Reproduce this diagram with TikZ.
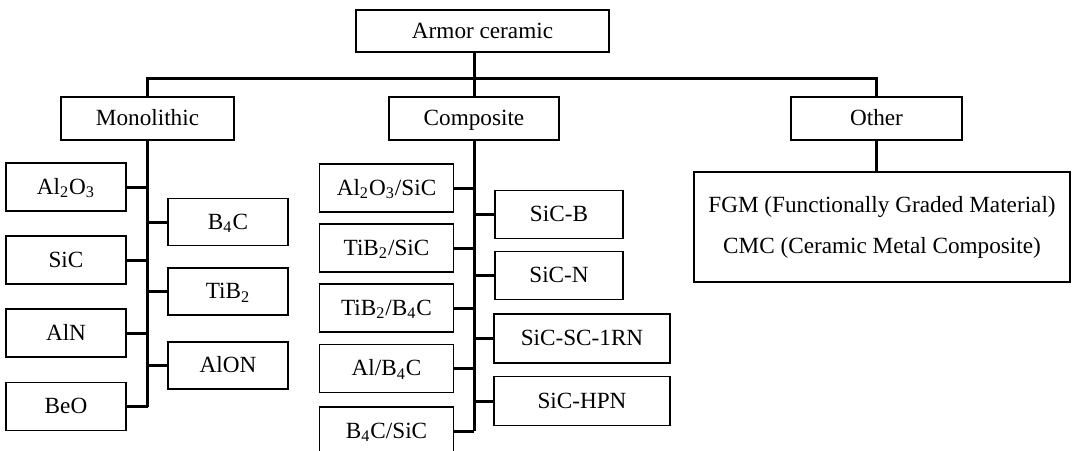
\documentclass[tikz,border=0pt]{standalone}
\usepackage{fontspec}
\setmainfont{Liberation Serif}
\begin{document}
\begin{tikzpicture}[x=0.5pt,y=-0.5pt,
  frame/.style={draw, line width=0.65pt, rectangle, inner sep=0pt, font=\fontsize{11.6}{14}\selectfont},
  box/.style={frame, text height=7.7pt, text depth=0.5pt},
  conn/.style={line width=1.5pt}]
\useasboundingbox (0,0) rectangle (1074,450);
% top levels
\node[box, minimum width=126.5pt, minimum height=21pt] (armor) at (482.5,31) {Armor ceramic};
\node[box, minimum width=86.5pt, minimum height=21.5pt] (mono) at (147.5,118.5) {Monolithic};
\node[box, minimum width=85pt, minimum height=21.5pt] (comp) at (474,118.5) {Composite};
\node[box, minimum width=85.5pt, minimum height=21.5pt] (other) at (876.5,118.5) {Other};
\node[frame, minimum width=188pt, minimum height=55pt, align=center, font=\fontsize{11.6}{20.5}\selectfont] (fgm) at (882,227) {FGM (Functionally Graded Material)\\CMC (Ceramic Metal Composite)};
% monolithic children
\tikzset{ml/.style={box, minimum width=60pt, minimum height=24pt},
         mr/.style={box, minimum width=60pt, minimum height=23.5pt}}
\node[ml] (al2o3) at (66,187) {Al\textsubscript{2}O\textsubscript{3}};
\node[ml] (sic) at (66,260) {SiC};
\node[ml] (aln) at (66,333) {AlN};
\node[ml] (beo) at (66,406.5) {BeO};
\node[mr] (b4c) at (228,222) {B\textsubscript{4}C};
\node[mr] (tib2) at (228,291.5) {TiB\textsubscript{2}};
\node[mr] (alon) at (228,365.5) {AlON};
% composite children
\tikzset{cl/.style={box, minimum width=67pt, minimum height=24pt},
         cr/.style={box, minimum width=64pt, minimum height=24pt},
         crw/.style={box, minimum width=88pt, minimum height=24.5pt}}
\node[cl] (c1) at (386.5,188) {Al\textsubscript{2}O\textsubscript{3}/SiC};
\node[cl] (c2) at (386.5,248) {TiB\textsubscript{2}/SiC};
\node[cl] (c3) at (386.5,308) {TiB\textsubscript{2}/B\textsubscript{4}C};
\node[cl] (c4) at (386.5,368.5) {Al/B\textsubscript{4}C};
\node[cl] (c5) at (386.5,431) {B\textsubscript{4}C/SiC};
\node[cr] (r1) at (559,214.5) {SiC-B};
\node[cr] (r2) at (559,275.5) {SiC-N};
\node[crw] (r3) at (582,338.5) {SiC-SC-1RN};
\node[crw] (r4) at (582,401) {SiC-HPN};
% bus
\coordinate (bus) at (474,78);
\draw[conn] (bus |- armor.south) -- (bus);
\draw[conn] (mono.north) |- (bus) -| (other.north);
\draw[conn] (comp.north) -- (comp.north |- bus);
\draw[conn] (other.south) -- (other.south |- fgm.north);
% monolithic tree
\coordinate (mt) at (147.5,406.5);
\draw[conn] (mono.south) -- (mt);
\foreach \n in {al2o3,sic,aln,beo} \draw[conn] (\n.east) -- (\n.east -| mt);
\foreach \n in {b4c,tib2,alon} \draw[conn] (\n.west) -- (\n.west -| mt);
% composite tree
\coordinate (ct) at (474,431);
\draw[conn] (comp.south) -- (ct);
\foreach \n in {c1,c2,c3,c4,c5} \draw[conn] (\n.east) -- (\n.east -| ct);
\foreach \n in {r1,r2,r3,r4} \draw[conn] (\n.west) -- (\n.west -| ct);
\end{tikzpicture}
\end{document}
